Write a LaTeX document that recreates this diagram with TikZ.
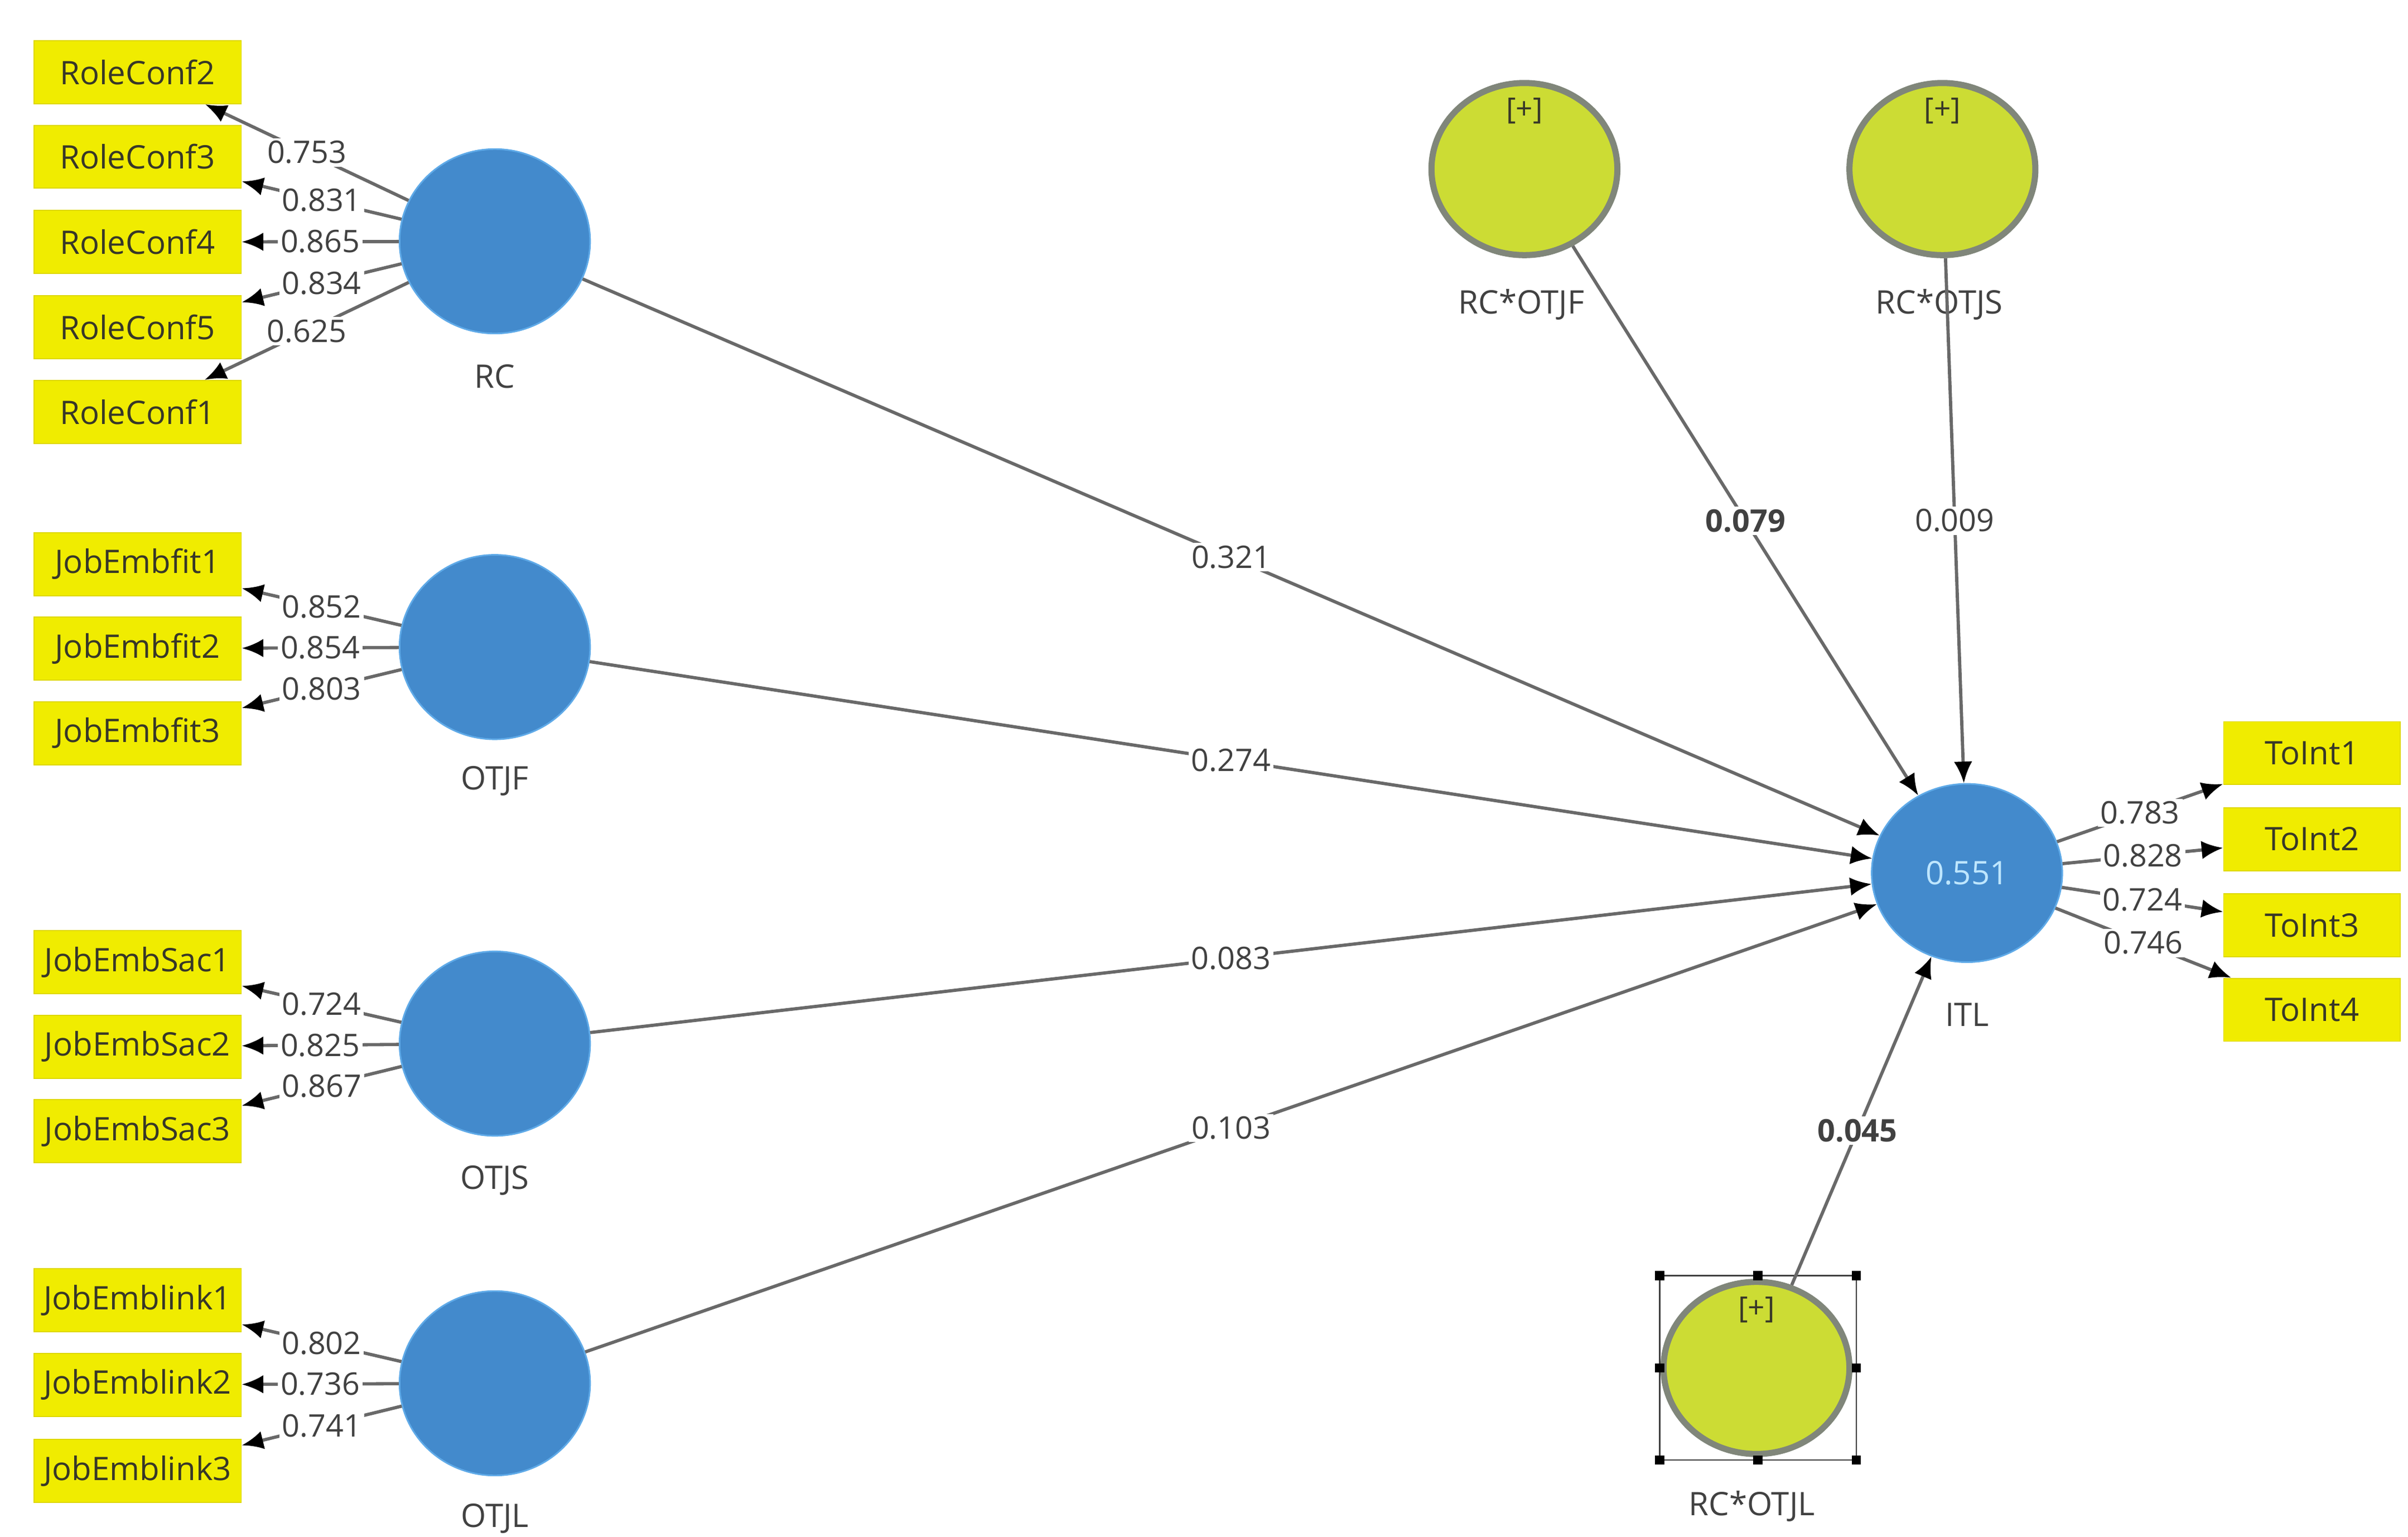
\documentclass[tikz,border=0pt]{standalone}
\usepackage{fontspec}
\setmainfont{Open Sans}
\usetikzlibrary{shapes.geometric,arrows.meta}
\definecolor{boxyellow}{RGB}{240,236,0}
\definecolor{boxedge}{RGB}{222,216,0}
\definecolor{lvblue}{RGB}{67,138,204}
\definecolor{lvedge}{RGB}{95,170,232}
\definecolor{modgreen}{RGB}{204,220,52}
\definecolor{modedge}{RGB}{128,134,122}
\definecolor{linegray}{RGB}{105,105,105}
\definecolor{txtdark}{RGB}{55,55,40}
\definecolor{numgray}{RGB}{65,65,65}
\definecolor{lightnum}{RGB}{190,230,255}
\tikzset{
  indbox/.style={rectangle, fill=boxyellow, draw=boxedge, line width=0.4pt,
    minimum width=2.7cm, minimum height=0.82cm, inner sep=0pt,
    font=\fontsize{12}{14}\selectfont, text=txtdark},
  outbox/.style={indbox, minimum width=2.3cm},
  lv/.style={ellipse, fill=lvblue, draw=lvedge, line width=0.6pt,
    minimum width=2.48cm, minimum height=2.4cm, inner sep=0pt},
  modlv/.style={ellipse, fill=modgreen, draw=modedge, line width=0.08cm,
    minimum width=2.42cm, minimum height=2.24cm, inner sep=0pt},
  lvname/.style={font=\fontsize{12}{14}\selectfont, text=numgray},
  plus/.style={font=\fontsize{11}{13}\selectfont, text=txtdark},
  conn/.style={draw=linegray, line width=1.2pt,
    -{Latex[length=0.28cm,width=0.24cm,color=black]}},
  lbl/.style={fill=white, inner sep=1pt, font=\fontsize{11.5}{13}\selectfont, text=numgray},
  blbl/.style={lbl, font=\fontsize{11.5}{13}\selectfont\bfseries},
  handle/.style={rectangle, fill=black, minimum size=0.12cm, inner sep=0pt},
}
\begin{document}
\begin{tikzpicture}[x=0.02cm,y=-0.02cm]
\useasboundingbox[fill=white] (0,0) rectangle (1567,1000);

% indicator boxes (left)
\node[indbox] (RC2) at (89.5,47) {RoleConf2};
\node[indbox] (RC3) at (89.5,102) {RoleConf3};
\node[indbox] (RC4) at (89.5,157.5) {RoleConf4};
\node[indbox] (RC5) at (89.5,213) {RoleConf5};
\node[indbox] (RC1) at (89.5,268) {RoleConf1};
\node[indbox] (JF1) at (89.5,367) {JobEmbfit1};
\node[indbox] (JF2) at (89.5,422) {JobEmbfit2};
\node[indbox] (JF3) at (89.5,477) {JobEmbfit3};
\node[indbox] (JS1) at (89.5,626) {JobEmbSac1};
\node[indbox] (JS2) at (89.5,681) {JobEmbSac2};
\node[indbox] (JS3) at (89.5,736) {JobEmbSac3};
\node[indbox] (JL1) at (89.5,846) {JobEmblink1};
\node[indbox] (JL2) at (89.5,901) {JobEmblink2};
\node[indbox] (JL3) at (89.5,957) {JobEmblink3};

% output indicator boxes
\node[outbox] (TI1) at (1504.5,490) {ToInt1};
\node[outbox] (TI2) at (1504.5,546) {ToInt2};
\node[outbox] (TI3) at (1504.5,602) {ToInt3};
\node[outbox] (TI4) at (1504.5,657) {ToInt4};

% latent variables
\node[lv] (RC) at (322,157) {};
\node[lv] (OTJF) at (322,421) {};
\node[lv] (OTJS) at (322,679) {};
\node[lv] (OTJL) at (322,900) {};
\node[lv, minimum height=2.32cm] (ITL) at (1280,568) {\fontsize{12}{14}\selectfont\color{lightnum}0.551};

% moderators
\node[modlv] (MF) at (992,110) {};
\node[modlv] (MS) at (1264,110) {};
\node[modlv] (ML) at (1143,890) {};
\node[plus] (pF) at (992,72) {[+]};
\node[plus] (pS) at (1264,72) {[+]};
\node[plus] (pL) at (1143,852) {[+]};

% selection frame round RC*OTJL
\coordinate (s1) at (1080,830);
\coordinate (s2) at (1208,950);
\draw[draw=black!75, line width=0.5pt] (s1) rectangle (s2);
\foreach \hx/\hy [count=\i] in {1080/830,1144/830,1208/830,1080/890,1208/890,1080/950,1144/950,1208/950}
  \node[handle] (h\i) at (\hx,\hy) {};

% names
\node[lvname] (nRC) at (322,245) {RC};
\node[lvname] (nOTJF) at (322,508) {OTJF};
\node[lvname] (nOTJS) at (322,768) {OTJS};
\node[lvname] (nOTJL) at (322,988) {OTJL};
\node[lvname] (nITL) at (1280,660) {ITL};
\node[lvname] (nMF) at (990,198) {RC*OTJF};
\node[lvname] (nMS) at (1262,198) {RC*OTJS};
\node[lvname] (nML) at (1140,980) {RC*OTJL};

% outer loadings
\draw[conn] (RC) -- node[lbl]{0.753} (RC2);
\draw[conn] (RC) -- node[lbl]{0.831} (RC3);
\draw[conn] (RC) -- node[lbl]{0.865} (RC4);
\draw[conn] (RC) -- node[lbl]{0.834} (RC5);
\draw[conn] (RC) -- node[lbl]{0.625} (RC1);
\draw[conn] (OTJF) -- node[lbl]{0.852} (JF1);
\draw[conn] (OTJF) -- node[lbl]{0.854} (JF2);
\draw[conn] (OTJF) -- node[lbl]{0.803} (JF3);
\draw[conn] (OTJS) -- node[lbl]{0.724} (JS1);
\draw[conn] (OTJS) -- node[lbl]{0.825} (JS2);
\draw[conn] (OTJS) -- node[lbl]{0.867} (JS3);
\draw[conn] (OTJL) -- node[lbl]{0.802} (JL1);
\draw[conn] (OTJL) -- node[lbl]{0.736} (JL2);
\draw[conn] (OTJL) -- node[lbl]{0.741} (JL3);
\draw[conn] (ITL) -- node[lbl]{0.783} (TI1);
\draw[conn] (ITL) -- node[lbl]{0.828} (TI2);
\draw[conn] (ITL) -- node[lbl]{0.724} (TI3);
\draw[conn] (ITL) -- node[lbl]{0.746} (TI4);

% path coefficients
\draw[conn] (RC) -- node[lbl]{0.321} (ITL);
\draw[conn] (OTJF) -- node[lbl]{0.274} (ITL);
\draw[conn] (OTJS) -- node[lbl]{0.083} (ITL);
\draw[conn] (OTJL) -- node[lbl]{0.103} (ITL);
\draw[conn] (MF) -- node[blbl]{0.079} (ITL);
\draw[conn] (MS) -- node[lbl]{0.009} (ITL);
\draw[conn] (ML) -- node[blbl, pos=0.47]{0.045} (ITL);
\end{tikzpicture}
\end{document}
